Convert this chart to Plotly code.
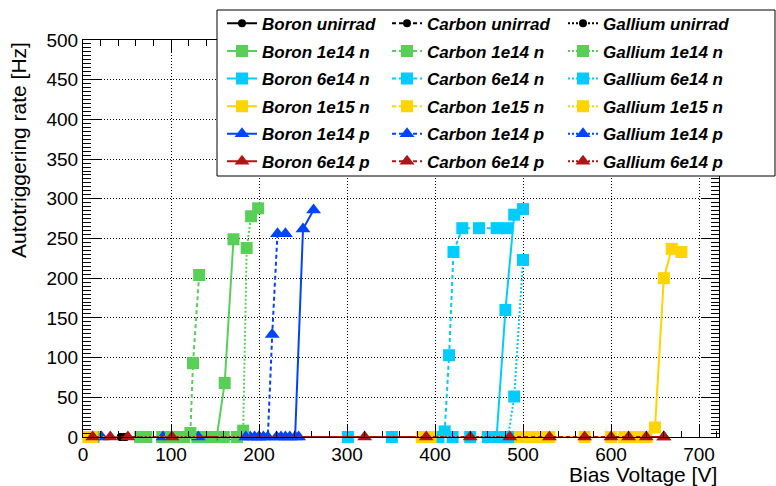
import plotly.graph_objects as go

# ---- measurements: bias voltage [V] and autotriggering rate [Hz] ----
boron_unirrad_v = [43, 73]
boron_unirrad_r = [0, 0]
boron_1e14n_v = [65, 90, 110, 130, 140, 152, 161, 171]
boron_1e14n_r = [0, 0, 0, 0, 0, 0, 68, 249]
boron_6e14n_v = [301, 351, 470, 480, 490, 500]
boron_6e14n_r = [0, 0, 0, 160, 280, 287]
boron_1e15n_v = [600, 620, 640, 650, 660, 669, 680]
boron_1e15n_r = [0, 0, 0, 12, 200, 237, 233]
boron_1e14p_v = [21, 91, 131, 160, 180, 200, 220, 230, 241, 250, 262]
boron_1e14p_r = [0, 0, 0, 0, 0, 0, 0, 0, 0, 262, 286]
boron_6e14p_v = [11, 101, 320, 660]
boron_6e14p_r = [0, 0, 0, 0]

carbon_unirrad_v = [48, 73]
carbon_unirrad_r = [0, 0]
carbon_1e14n_v = [12, 72, 100, 115, 122, 125, 132]
carbon_1e14n_r = [0, 0, 0, 0, 5, 93, 204]
carbon_6e14n_v = [396, 404, 411, 416, 421, 431, 450, 470, 482]
carbon_6e14n_r = [0, 0, 7, 103, 233, 263, 263, 263, 263]
carbon_1e15n_v = [385, 395, 490, 500, 510, 520, 530, 570, 600, 615, 630, 640]
carbon_1e15n_r = [0, 0, 0, 0, 0, 0, 0, 0, 0, 0, 0, 0]
carbon_1e14p_v = [190, 200, 210, 215, 221, 230]
carbon_1e14p_r = [0, 0, 0, 129, 256, 256]
carbon_6e14p_v = [390, 530, 570, 600, 620, 640, 660]
carbon_6e14p_r = [0, 0, 0, 0, 0, 0, 0]

gallium_unirrad_v = [43, 48]
gallium_unirrad_r = [0, 0]
gallium_1e14n_v = [160, 175, 182, 186, 191, 199]
gallium_1e14n_r = [0, 0, 8, 238, 278, 288]
gallium_6e14n_v = [420, 440, 460, 483, 490, 500]
gallium_6e14n_r = [0, 0, 0, 0, 51, 223]
gallium_1e15n_v = [6, 10]
gallium_1e15n_r = [0, 0]
gallium_1e14p_v = [185, 195, 205, 225, 235, 245]
gallium_1e14p_r = [0, 0, 0, 0, 0, 0]
gallium_6e14p_v = [11, 31, 51, 101, 440, 485]
gallium_6e14p_r = [0, 0, 0, 0, 0, 0]

dopants = ["Boron", "Carbon", "Gallium"]
fluences = ["unirrad", "1e14 n", "6e14 n", "1e15 n", "1e14 p", "6e14 p"]

data = {
    "Boron": [(boron_unirrad_v, boron_unirrad_r), (boron_1e14n_v, boron_1e14n_r),
              (boron_6e14n_v, boron_6e14n_r), (boron_1e15n_v, boron_1e15n_r),
              (boron_1e14p_v, boron_1e14p_r), (boron_6e14p_v, boron_6e14p_r)],
    "Carbon": [(carbon_unirrad_v, carbon_unirrad_r), (carbon_1e14n_v, carbon_1e14n_r),
               (carbon_6e14n_v, carbon_6e14n_r), (carbon_1e15n_v, carbon_1e15n_r),
               (carbon_1e14p_v, carbon_1e14p_r), (carbon_6e14p_v, carbon_6e14p_r)],
    "Gallium": [(gallium_unirrad_v, gallium_unirrad_r), (gallium_1e14n_v, gallium_1e14n_r),
                (gallium_6e14n_v, gallium_6e14n_r), (gallium_1e15n_v, gallium_1e15n_r),
                (gallium_1e14p_v, gallium_1e14p_r), (gallium_6e14p_v, gallium_6e14p_r)],
}

# ---- styling ----
fluence_colors = ["#000000", "#58d058", "#00ccff", "#ffd400", "#0044ff", "#b01515"]
fluence_symbols = ["circle", "square", "square", "square", "triangle-up", "triangle-up"]
fluence_sizes = [8, 12, 12, 12, 13, 13]
dopant_dash = {"Boron": "solid", "Carbon": "4px,3px", "Gallium": "2px,2px"}
dopant_legend = {"Boron": "legend", "Carbon": "legend2", "Gallium": "legend3"}

FONT = "Liberation Sans"

fig = go.Figure()
for dop in dopants:
    for i, fl in enumerate(fluences):
        v, r = data[dop][i]
        name = f"{dop} {fl}"
        fig.add_trace(go.Scatter(
            x=v, y=r, mode="lines+markers", name=name,
            legend=dopant_legend[dop], legendgroup=name,
            line=dict(color=fluence_colors[i], width=2, dash=dopant_dash[dop]),
            marker=dict(symbol=fluence_symbols[i], size=fluence_sizes[i],
                        color=fluence_colors[i], line=dict(width=0)),
            cliponaxis=False,
        ))

# ---- layout ----
L, R, T, B = 83, 57, 40, 49
W, H = 776, 486
pw, ph = W - L - R, H - T - B


def px_x(p):
    return (p - L) / pw


def px_y(p):
    return (H - B - p) / ph


legend_font = dict(family=FONT, size=17, color="black", weight="bold", style="italic")
legend_common = dict(orientation="v", xanchor="left", yanchor="top", y=px_y(5.8),
                     bgcolor="rgba(0,0,0,0)", borderwidth=0, font=legend_font,
                     tracegroupgap=2.5, itemwidth=30)

axis_common = dict(showline=True, linecolor="black", linewidth=1, mirror="ticks",
                   ticks="inside", tickcolor="black", tickwidth=1,
                   showgrid=True, gridcolor="black", gridwidth=1, griddash="1px,2px",
                   zeroline=False,
                   tickfont=dict(family=FONT, size=19, color="black"))

fig.update_layout(
    width=W, height=H,
    margin=dict(l=L, r=R, t=T, b=B, autoexpand=False),
    paper_bgcolor="white", plot_bgcolor="white",
    font=dict(family=FONT, color="black"),
    xaxis=dict(range=[0, 722.7], dtick=100, ticklen=12,
               minor=dict(dtick=20, ticks="inside", ticklen=6, tickcolor="black", showgrid=False),
               **axis_common),
    yaxis=dict(range=[0, 500], dtick=50, ticklen=18,
               minor=dict(dtick=5, ticks="inside", ticklen=8, tickcolor="black", showgrid=False),
               **axis_common),
    legend=dict(x=px_x(222), **legend_common),
    legend2=dict(x=px_x(387), **legend_common),
    legend3=dict(x=px_x(563), **legend_common),
    shapes=[dict(type="rect", xref="paper", yref="paper",
                 x0=px_x(217), x1=px_x(775), y0=px_y(176), y1=px_y(10),
                 fillcolor="white", line=dict(color="black", width=1), layer="above")],
    annotations=[
        dict(text="Bias Voltage [V]", xref="paper", yref="paper", x=1, y=px_y(474),
             xanchor="right", yanchor="middle", showarrow=False,
             font=dict(family=FONT, size=21, color="black")),
        dict(text="Autotriggering rate [Hz]", xref="paper", yref="paper", x=px_x(18), y=1,
             xanchor="center", yanchor="top", textangle=-90, showarrow=False,
             font=dict(family=FONT, size=21, color="black")),
    ],
)

fig.write_html("out.html")
